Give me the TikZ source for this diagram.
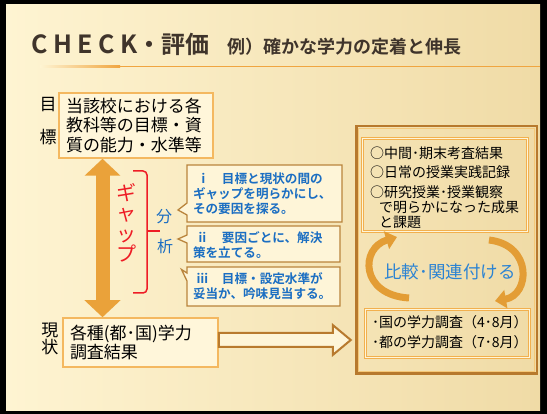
\documentclass[tikz,border=0pt]{standalone}
\usepackage{fontspec}
\setmainfont{Noto Sans CJK JP}[BoldFont={Noto Sans CJK JP Bold}]
\newfontfamily\titlefont{Noto Sans CJK JP Bold}
\newfontfamily\checkfont{Noto Sans CJK JP Bold}[LetterSpace=22]
\usetikzlibrary{calc,arrows.meta}
\definecolor{bgl}{HTML}{FEF4D2}
\definecolor{bgr}{HTML}{F0DBA6}
\definecolor{titlec}{HTML}{3F342B}
\definecolor{linec}{HTML}{F0A540}
\definecolor{lboxc}{HTML}{F4B860}
\definecolor{lboxf}{HTML}{FFF6DA}
\definecolor{arrowc}{HTML}{EAA23A}
\definecolor{redc}{HTML}{EE1C25}
\definecolor{bluec}{HTML}{1B6EC2}
\definecolor{blue2}{HTML}{2B83D3}
\definecolor{cbc}{HTML}{B9843C}
\definecolor{cbf}{HTML}{FEF5D8}
\definecolor{bigc}{HTML}{B7792D}
\definecolor{biginner}{HTML}{F5C878}
\definecolor{dorange}{HTML}{F2B04E}
\definecolor{curvc}{HTML}{E39D35}
\definecolor{holc}{HTML}{B87A2E}
\begin{document}
\begin{tikzpicture}[x=1pt,y=-1pt,
  lbox/.style={draw=lboxc,line width=1.5pt,fill=lboxf,align=left,inner sep=0pt,
    font=\fontsize{17}{19.5}\selectfont},
  lbl/.style={inner sep=0pt,font=\fontsize{17}{19}\selectfont},
  cbox/.style={draw=cbc,line width=1.3pt,fill=cbf,line join=miter},
  ctext/.style={inner sep=0pt,align=left,text=bluec,
    font=\bfseries\fontsize{12.6}{15}\selectfont},
  dbox/.style={draw=dorange,double=cbf,double distance=1.3pt,line width=0.8pt,inner sep=0pt},
  rtext/.style={inner sep=0pt,align=left,anchor=west,font=\fontsize{14}{15}\selectfont},
  dblarrow/.style={draw=arrowc,line width=14pt,
    {Triangle[length=17pt,width=35pt]}-{Triangle[length=17pt,width=35pt]}},
  carrow/.style={draw=curvc,line width=7pt,-{Triangle[length=11pt,width=18pt]}},
  holarrow/.style={draw=holc,line width=2pt,fill=cbf,line join=miter},
  redbr/.style={draw=redc,line width=1.5pt}]
\useasboundingbox (0,0) rectangle (547,414);
\fill[black] (0,0) rectangle (547,414);
\shade[left color=bgl,right color=bgr] (6,5) rectangle (540,411);
% title
\node[anchor=base west,inner sep=0pt,text=titlec,font=\checkfont\fontsize{25}{28}\selectfont] (t1) at (31,54) {CHECK};
\node[anchor=base west,inner sep=0pt,text=titlec,font=\titlefont\fontsize{24}{28}\selectfont] (t2) at (t1.base east) {・評価};
\node[anchor=base west,inner sep=0pt,text=titlec,font=\titlefont\fontsize{18}{22}\selectfont] (t3) at (227,54) {例）確かな学力の定着と伸長};
\shade[left color=bgl,right color=linec] (40,65.8) rectangle (120,67.4);
\fill[linec] (120,65.8) rectangle (540,67.4);
% left boxes
\node[lbox,minimum width=154pt,minimum height=65pt,text width=140pt] (goal) at (136,125.5)
  {当該校における各\\教科等の目標・資\\質の能力・水準等};
\node[lbox,minimum width=155pt,minimum height=49pt,text width=141pt,
  font=\fontsize{17}{19}\selectfont] (cur) at (140.5,342.5)
  {各種(都･国)学力\\調査結果};
\node[lbl] (m1) at (48,105) {目};
\node[lbl] (m2) at (48,137) {標};
\node[lbl] (g1) at (50,330) {現};
\node[lbl] (g2) at (50,347) {状};
% double arrow
\coordinate (ax) at (102.5,0);
\draw[dblarrow] (goal.south -| ax) -- (cur.north -| ax);
% gap label and bracket
\node[inner sep=0pt,align=center,text=redc,font=\fontsize{20}{20.5}\selectfont] (gap) at (126,223) {ギ\\ャ\\ッ\\プ};
\draw[redbr,rounded corners=4pt] (133,171) -- (147,171) -- (147,293) -- (133,293);
\draw[redbr] (147,231) -- (160,231);
\node[inner sep=0pt,text=bluec,font=\fontsize{16}{18}\selectfont] (bun) at (164,217) {分};
\node[inner sep=0pt,text=bluec,font=\fontsize{16}{18}\selectfont] (seki) at (165,246) {析};
% callouts
\draw[cbox] (187,165) -- (342,165) -- (342,222) -- (187,222) -- (187,215) -- (178,210) -- (187,203) -- cycle;
\draw[cbox] (187,226) -- (340,226) -- (340,262) -- (187,262) -- (187,243) -- (178,239) -- (187,235) -- cycle;
\draw[cbox] (187,267) -- (340,267) -- (340,306) -- (187,306) -- (187,281) -- (181.5,269.5) -- (187,273) -- cycle;
\node[ctext,text width=143pt] (c1) at (264.5,193.5)
  {\makebox[29pt][l]{\hspace{4pt}ⅰ}目標と現状の間の\\ギャップを明らかにし、\\その要因を探る。};
\node[ctext,text width=142pt] (c2) at (264,245.5)
  {\makebox[29pt][l]{\hspace{3pt}ⅱ}要因ごとに、解決\\策を立てる。};
\node[ctext,text width=142pt] (c3) at (264,286.5)
  {\makebox[29pt][l]{\hspace{3pt}ⅲ}目標・設定水準が\\妥当か、吟味見当する。};
% right big box
\node[draw=bigc,line width=2.5pt,minimum width=180.5pt,minimum height=247.5pt,inner sep=0pt] (big) at (446.5,250) {};
\draw[biginner,line width=1pt] ([shift={(3.5,3.5)}]big.north west) rectangle ([shift={(-3.5,-3.5)}]big.south east);
% hollow arrow
\coordinate (ha) at ($(cur.east)+(0,-2.5)$);
\draw[holarrow] ([shift={(0,-7)}]ha) -- ([shift={(114,-7)}]ha) -- ([shift={(114,-15)}]ha)
  -- ([shift={(132,0)}]ha) -- ([shift={(114,15)}]ha) -- ([shift={(114,7)}]ha) -- ([shift={(0,7)}]ha) -- cycle;
% inner boxes
\node[dbox,minimum width=165pt,minimum height=93pt] (r1) at (445,185) {};
\node[rtext] (r1t) at (370,187.5)
  {○中間･期末考査結果\\[4.5pt]○日常の授業実践記録\\[4.5pt]○研究授業･授業観察\\\hspace*{9pt}で明らかになった成果\\\hspace*{9pt}と課題};
\node[dbox,minimum width=164pt,minimum height=48pt] (r2) at (447.5,333.5) {};
\node[rtext,font=\fontsize{14}{20}\selectfont] (r2t) at (372,332)
  {･国の学力調査（4･8月）\\･都の学力調査（7･8月）};
% compare
\node[inner sep=0pt,text=blue2,font=\fontsize{17.5}{19}\selectfont] (cmp) at (450,272) {比較･関連付ける};
\draw[carrow] (409,298) .. controls (360,295) and (360,248) .. (397,237);
\draw[carrow] (489,240) .. controls (533,245) and (530,295) .. (495,301);
\end{tikzpicture}
\end{document}
